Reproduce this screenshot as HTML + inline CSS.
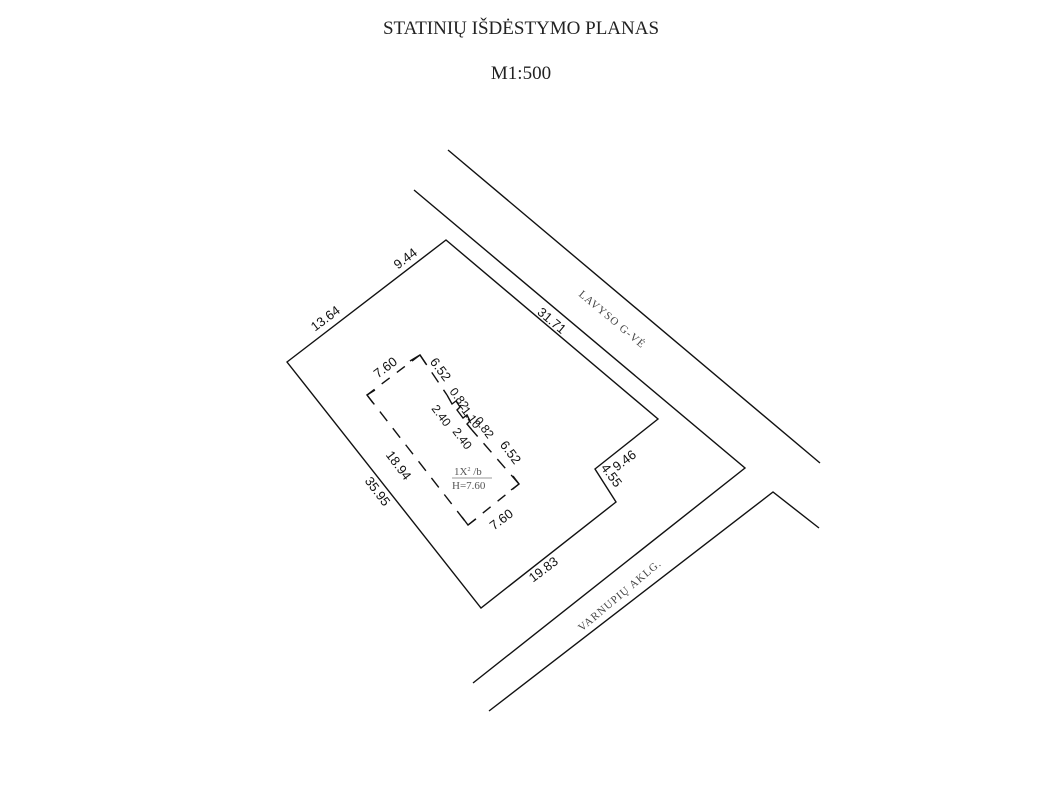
<!DOCTYPE html>
<html><head><meta charset="utf-8"><style>
html,body{margin:0;padding:0;background:#fff;}
svg{display:block;}
.t{font-family:"Liberation Sans",sans-serif;font-size:13px;fill:#111;}
.s{font-family:"Liberation Serif",serif;font-size:11px;fill:#444;letter-spacing:1px;}
</style></head><body>
<svg width="1049" height="790" viewBox="0 0 1049 790" xmlns="http://www.w3.org/2000/svg">
<text x="521" y="34" text-anchor="middle" font-family="Liberation Serif,serif" font-size="19" fill="#222">STATINIŲ IŠDĖSTYMO PLANAS</text>
<text x="521" y="79" text-anchor="middle" font-family="Liberation Serif,serif" font-size="19" fill="#222">M1:500</text>
<g stroke="#111" stroke-width="1.4" fill="none">
<line x1="448" y1="150" x2="820" y2="463"/>
<polyline points="414,190 745,468 473,683"/>
<polyline points="489,711 773,492 819,528"/>
<polygon points="287,362 446,240 658,419 595,469 616,502 481,608"/>
<!-- building dashed edges -->
<line x1="420" y1="355" x2="367" y2="395" stroke-dasharray="10,9"/>
<line x1="367" y1="395" x2="468" y2="525" stroke-dasharray="12,9"/>
<line x1="468" y1="525" x2="519" y2="484" stroke-dasharray="10,9"/>
<line x1="519" y1="484" x2="472" y2="430" stroke-dasharray="12,9"/>
<line x1="420" y1="355" x2="447" y2="395" stroke-dasharray="12,9"/>
<!-- corners -->
<polyline points="410,361 420,355 426,364"/>
<polyline points="375,390 367,395 373,403"/>
<polyline points="462,517 468,525 476,519"/>
<polyline points="513,476 519,484 511,490"/>
<polyline points="447,395 452,404 456,401 460,407 457,410 463,418 467,415 470,421 467,424 472,430"/>
</g>
<g class="t">
<text transform="translate(408,262) rotate(-37)" text-anchor="middle">9.44</text>
<text transform="translate(328,322) rotate(-37)" text-anchor="middle">13.64</text>
<text transform="translate(549,324) rotate(40)" text-anchor="middle">31.71</text>
<text transform="translate(374,494) rotate(53)" text-anchor="middle">35.95</text>
<text transform="translate(546,573) rotate(-37)" text-anchor="middle">19.83</text>
<text transform="translate(627,464) rotate(-37)" text-anchor="middle">9.46</text>
<text transform="translate(608,478) rotate(53)" text-anchor="middle">4.55</text>
<text transform="translate(388,371) rotate(-37)" text-anchor="middle">7.60</text>
<text transform="translate(504,523) rotate(-37)" text-anchor="middle">7.60</text>
<text transform="translate(437,372) rotate(53)" text-anchor="middle">6.52</text>
<text transform="translate(507,455) rotate(53)" text-anchor="middle">6.52</text>
<text transform="translate(395,468) rotate(53)" text-anchor="middle">18.94</text>
<text transform="translate(456,401) rotate(53)" text-anchor="middle" font-size="12">0.82</text>
<text transform="translate(468,420) rotate(53)" text-anchor="middle" font-size="12">1.10</text>
<text transform="translate(481,430) rotate(53)" text-anchor="middle" font-size="12">0.82</text>
<text transform="translate(438,418) rotate(53)" text-anchor="middle" font-size="12">2.40</text>
<text transform="translate(459,441) rotate(53)" text-anchor="middle" font-size="12">2.40</text>
</g>
<text x="454" y="475" font-family="Liberation Serif,serif" font-size="11" fill="#555">1X<tspan font-size="6" dy="-4">2</tspan><tspan dy="4"> /b</tspan></text>
<line x1="452" y1="478" x2="492" y2="478" stroke="#777" stroke-width="0.8"/>
<text x="452" y="489" font-family="Liberation Serif,serif" font-size="11" fill="#555">H=7.60</text>
<text class="s" transform="translate(610,322) rotate(40)" text-anchor="middle">LAVYSO G-VĖ</text>
<text class="s" transform="translate(622,598) rotate(-40)" text-anchor="middle">VARNUPIŲ AKLG.</text>
</svg>
</body></html>
